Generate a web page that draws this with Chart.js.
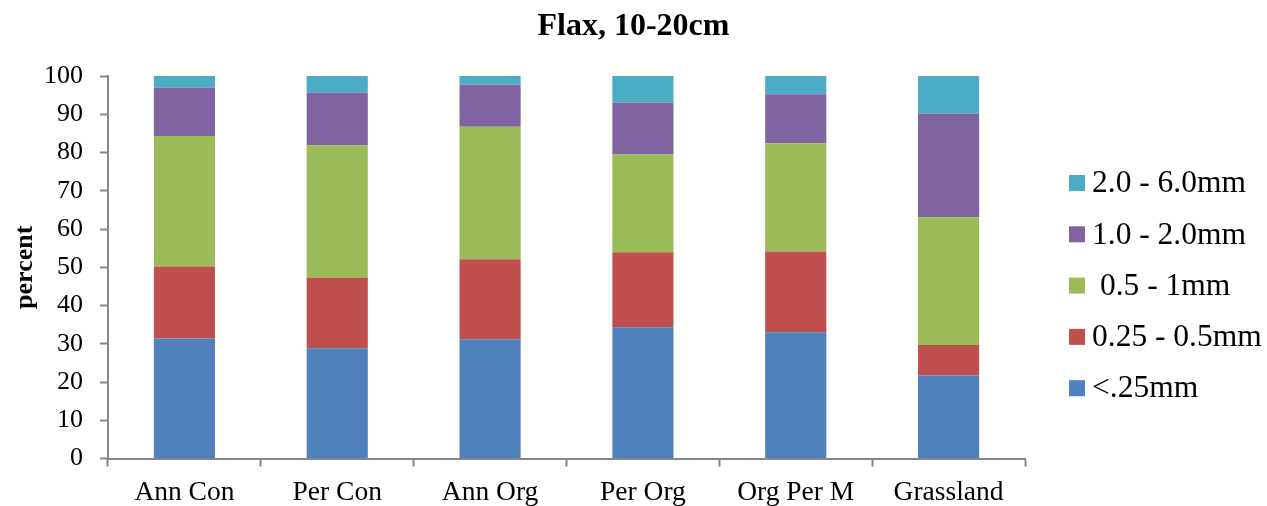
<!DOCTYPE html>
<html>
<head>
<meta charset="utf-8">
<script src="https://cdn.jsdelivr.net/npm/chart.js@4.4.1/dist/chart.umd.min.js"></script>
<style>
  html, body { margin: 0; padding: 0; background: #ffffff; }
  #wrap { width: 1267px; height: 506px; }
</style>
</head>
<body>
<div id="wrap"><canvas id="c" width="1267" height="506"></canvas></div>
<script>
// Aggregate size fractions (percent of soil mass), flax, 10-20 cm depth
const categories = ['Ann Con', 'Per Con', 'Ann Org', 'Per Org', 'Org Per M', 'Grassland'];
const sizeClasses = ['<.25mm', '0.25 - 0.5mm', ' 0.5 - 1mm', '1.0 - 2.0mm', '2.0 - 6.0mm'];
const below025   = [31.4, 28.8, 31.2, 34.3, 33.0, 21.7];
const from025to05 = [18.8, 18.5, 20.9, 19.6, 21.1, 8.0];
const from05to1   = [34.1, 34.6, 34.6, 25.6, 28.3, 33.4];
const from1to2    = [12.7, 13.8, 11.0, 13.6, 12.8, 27.0];
const from2to6    = [3.0, 4.3, 2.3, 6.9, 4.8, 9.9];
const yTicks = [0, 10, 20, 30, 40, 50, 60, 70, 80, 90, 100];

const seriesValues = [below025, from025to05, from05to1, from1to2, from2to6];
const seriesColors = ['#4F81BD', '#C0504D', '#9BBB59', '#8064A2', '#4BACC6'];

const SERIF = '"Liberation Serif", "Times New Roman", serif';
const AXIS_GREY = '#878787';

// Chart title drawn centred over the whole canvas
const titlePlugin = {
  id: 'centredTitle',
  afterDraw(chart) {
    const ctx = chart.ctx;
    ctx.save();
    ctx.font = 'bold 32px ' + SERIF;
    ctx.fillStyle = '#000';
    ctx.textAlign = 'center';
    ctx.textBaseline = 'middle';
    ctx.fillText('Flax, 10-20cm', chart.width / 2, 27);
    ctx.restore();
  }
};

// Legend listed top-down from the largest size class
const sideLegend = {
  id: 'sideLegend',
  afterDraw(chart) {
    const ctx = chart.ctx;
    const ds = chart.data.datasets;
    const boxX = 1069, box = 16, textX = 1092, firstY = 183, step = 51.3;
    ctx.save();
    ctx.font = '31.5px ' + SERIF;
    ctx.textBaseline = 'middle';
    ctx.textAlign = 'left';
    for (let i = ds.length - 1, row = 0; i >= 0; i--, row++) {
      const cy = firstY + row * step;
      ctx.fillStyle = ds[i].backgroundColor;
      ctx.fillRect(boxX, cy - box / 2, box, box);
      ctx.fillStyle = '#000';
      ctx.fillText(ds[i].label, textX, cy + 1);
    }
    ctx.restore();
  }
};

new Chart(document.getElementById('c'), {
  type: 'bar',
  data: {
    labels: categories,
    datasets: seriesValues.map((vals, i) => ({
      label: sizeClasses[i],
      data: vals,
      backgroundColor: seriesColors[i],
      borderWidth: 0,
      barPercentage: 0.4,
      categoryPercentage: 1.0
    }))
  },
  options: {
    responsive: false,
    animation: false,
    layout: { padding: { top: 76, right: 242, bottom: 0, left: 0 } },
    plugins: {
      legend: { display: false },
      title: { display: false },
      tooltip: { enabled: false }
    },
    scales: {
      x: {
        stacked: true,
        afterFit(scale) { scale.height = 47.5; },
        grid: {
          offset: true,
          drawOnChartArea: false,
          tickLength: 8,
          tickColor: AXIS_GREY,
          tickWidth: 2
        },
        border: { color: AXIS_GREY, width: 2 },
        ticks: {
          color: '#000',
          font: { family: SERIF, size: 27.5 },
          padding: 10,
          maxRotation: 0
        }
      },
      y: {
        stacked: true,
        min: 0,
        max: 100,
        afterFit(scale) { scale.width = 108; },
        afterBuildTicks(scale) { scale.ticks = yTicks.map(v => ({ value: v })); },
        grid: {
          drawOnChartArea: false,
          tickLength: 8,
          tickColor: AXIS_GREY,
          tickWidth: 2
        },
        border: { color: AXIS_GREY, width: 2 },
        ticks: {
          color: '#000',
          font: { family: SERIF, size: 26 },
          padding: 17
        },
        title: {
          display: true,
          text: 'percent',
          color: '#000',
          font: { family: SERIF, size: 26, weight: 'bold' },
          padding: { top: 10, bottom: 0 }
        }
      }
    }
  },
  plugins: [titlePlugin, sideLegend]
});
</script>
</body>
</html>
